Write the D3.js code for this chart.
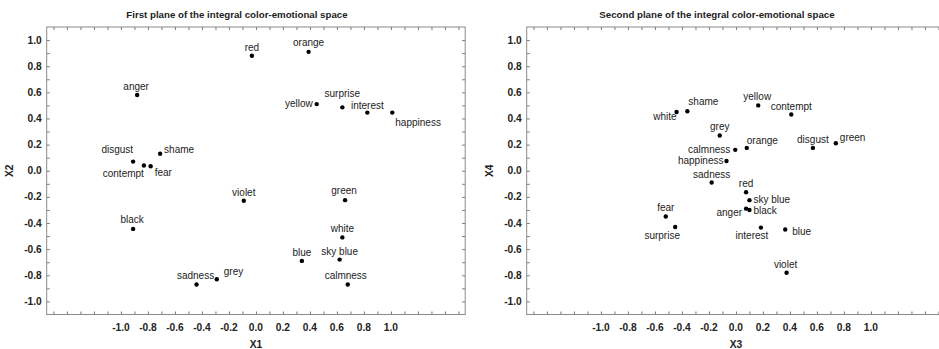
<!DOCTYPE html>
<html>
<head>
<meta charset="utf-8">
<script src="https://cdn.jsdelivr.net/npm/d3@7"></script>
<style>
  body { margin: 0; background: #fff; }
  svg { display: block; font-family: "Liberation Sans", Arial, sans-serif; }
</style>
</head>
<body>
<script>
// data - first plane (X1, X2)
var names1 = ["red", "orange", "anger", "yellow", "surprise", "interest", "happiness",
    "disgust", "contempt", "fear", "shame", "violet", "green", "black", "white",
    "blue", "sky blue", "calmness", "sadness", "grey"];
var x1Values = [-0.03, 0.39, -0.88, 0.45, 0.64, 0.825, 1.01,
    -0.91, -0.83, -0.78, -0.71, -0.09, 0.66, -0.91, 0.64,
    0.34, 0.62, 0.68, -0.44, -0.29];
var x2Values = [0.88, 0.91, 0.58, 0.51, 0.485, 0.445, 0.445,
    0.07, 0.04, 0.035, 0.13, -0.23, -0.225, -0.445, -0.51,
    -0.69, -0.68, -0.87, -0.87, -0.83];

// data - second plane (X3, X4)
var names2 = ["white", "shame", "yellow", "contempt", "grey", "calmness", "orange",
    "disgust", "green", "happiness", "sadness", "red", "sky blue", "anger", "black",
    "fear", "surprise", "interest", "blue", "violet"];
var x3Values = [-0.44, -0.36, 0.165, 0.41, -0.12, -0.005, 0.08,
    0.57, 0.74, -0.07, -0.18, 0.075, 0.10, 0.075, 0.10,
    -0.52, -0.45, 0.185, 0.365, 0.375];
var x4Values = [0.45, 0.455, 0.50, 0.43, 0.27, 0.16, 0.175,
    0.175, 0.21, 0.075, -0.09, -0.165, -0.225, -0.29, -0.30,
    -0.35, -0.43, -0.435, -0.45, -0.78];

// tick labels
var xTickLabels = [-1.0, -0.8, -0.6, -0.4, -0.2, 0.0, 0.2, 0.4, 0.6, 0.8, 1.0];
var yTickLabels = [1.0, 0.8, 0.6, 0.4, 0.2, 0.0, -0.2, -0.4, -0.6, -0.8, -1.0];

// label placement [dx, dy, anchor]
var place1 = {
  "red": [0, -5, "middle"], "orange": [0, -6, "middle"], "anger": [-1, -5, "middle"],
  "yellow": [-4, 3, "end"], "surprise": [0, -10, "middle"], "interest": [0, -4, "middle"],
  "happiness": [3, 13, "start"], "disgust": [0, -9, "end"], "contempt": [0, 11, "end"],
  "fear": [4, 10, "start"], "shame": [4, -1, "start"], "violet": [0, -5, "middle"],
  "green": [-1, -6, "middle"], "black": [-1, -6, "middle"], "white": [0, -5, "middle"],
  "blue": [0, -5, "middle"], "sky blue": [0, -5, "middle"], "calmness": [-2, -5, "middle"],
  "sadness": [-1, -5, "middle"], "grey": [7, -4, "start"]
};
var place2 = {
  "white": [0, 8, "end"], "shame": [1, -6, "start"], "yellow": [-1, -5, "middle"],
  "contempt": [0, -5, "middle"], "grey": [0, -5, "middle"], "calmness": [-5, 3, "end"],
  "orange": [0, -4, "start"], "disgust": [0, -5, "middle"], "green": [4, -2, "start"],
  "happiness": [-3, 3, "end"], "sadness": [0, -5, "middle"], "red": [0, -5, "middle"],
  "sky blue": [4, 3, "start"], "anger": [-4, 7, "end"], "black": [4, 4, "start"],
  "fear": [0, -5, "middle"], "surprise": [-13, 12, "middle"], "interest": [-9, 11, "middle"],
  "blue": [7, 5, "start"], "violet": [-1, -5, "middle"]
};

var W = 939, H = 349;
var svg = d3.select("body").append("svg")
    .attr("width", W)
    .attr("height", H);

var plotTop = 27, plotBottom = 314.5;

function drawPanel(opt) {
  var x = d3.scaleLinear().domain([-1.55, 1.55]).range([opt.left, opt.left + 418.5]);
  var y = d3.scaleLinear().domain([-1.1, 1.1]).range([plotBottom, plotTop]);
  var g = svg.append("g");

  var minor = d3.range(-15, 16).map(function(d) { return d / 10; });
  var minorY = d3.range(-10, 11).map(function(d) { return d / 10; });

  // inward tick marks on all sides
  var tickAxes = [
    [d3.axisBottom(x), "translate(0," + plotBottom + ")", minor],
    [d3.axisTop(x), "translate(0," + plotTop + ")", minor],
    [d3.axisLeft(y), "translate(" + x.range()[0] + ",0)", minorY],
    [d3.axisRight(y), "translate(" + x.range()[1] + ",0)", minorY]
  ];
  tickAxes.forEach(function(a) {
    var ax = g.append("g")
        .attr("transform", a[1])
        .call(a[0].tickValues(a[2]).tickSizeInner(-3).tickSizeOuter(0).tickFormat(""));
    ax.select(".domain").remove();
    ax.selectAll("line").attr("stroke", "#777");
  });

  // frame
  g.append("rect")
      .attr("x", x.range()[0])
      .attr("y", plotTop)
      .attr("width", x.range()[1] - x.range()[0])
      .attr("height", plotBottom - plotTop)
      .attr("fill", "none")
      .attr("stroke", "#8a8a8a")
      .attr("stroke-width", 1);

  // tick labels
  g.selectAll(".xl").data(xTickLabels).enter().append("text")
      .attr("x", function(d) { return x(d); })
      .attr("y", 331)
      .attr("text-anchor", "middle")
      .attr("font-size", 10.2).attr("font-weight", "bold").attr("fill", "#222")
      .text(function(d) { return d.toFixed(1); });

  g.selectAll(".yl").data(yTickLabels).enter().append("text")
      .attr("x", x.range()[0] - 5)
      .attr("y", function(d) { return y(d) + 3.5; })
      .attr("text-anchor", "end")
      .attr("font-size", 10.2).attr("font-weight", "bold").attr("fill", "#222")
      .text(function(d) { return d.toFixed(1); });

  // axis titles
  g.append("text")
      .attr("x", x(0))
      .attr("y", 348)
      .attr("text-anchor", "middle")
      .attr("font-size", 10.2).attr("font-weight", "bold").attr("fill", "#222")
      .text(opt.xTitle);

  g.append("text")
      .attr("transform", "translate(" + (x.range()[0] - 34) + "," + y(0) + ") rotate(-90)")
      .attr("text-anchor", "middle")
      .attr("font-size", 10.2).attr("font-weight", "bold").attr("fill", "#222")
      .text(opt.yTitle);

  // chart title
  g.append("text")
      .attr("x", x(0) - 19)
      .attr("y", 18)
      .attr("text-anchor", "middle")
      .attr("font-size", 9.7).attr("font-weight", "bold").attr("fill", "#222")
      .text(opt.title);

  var pts = opt.names.map(function(n, i) { return {name: n, x: opt.xs[i], y: opt.ys[i]}; });

  g.selectAll(".dot").data(pts).enter().append("circle")
      .attr("cx", function(d) { return x(d.x); })
      .attr("cy", function(d) { return y(d.y); })
      .attr("r", 2.2)
      .attr("fill", "#000");

  g.selectAll(".lbl").data(pts).enter().append("text")
      .attr("x", function(d) { return x(d.x) + opt.place[d.name][0]; })
      .attr("y", function(d) { return y(d.y) + opt.place[d.name][1]; })
      .attr("text-anchor", function(d) { return opt.place[d.name][2]; })
      .attr("font-size", 10)
      .attr("fill", "#222")
      .text(function(d) { return d.name; });
}

drawPanel({left: 46.7, names: names1, xs: x1Values, ys: x2Values, place: place1,
  xTitle: "X1", yTitle: "X2", title: "First plane of the integral color-emotional space"});
drawPanel({left: 526.7, names: names2, xs: x3Values, ys: x4Values, place: place2,
  xTitle: "X3", yTitle: "X4", title: "Second plane of the integral color-emotional space"});
</script>
</body>
</html>
